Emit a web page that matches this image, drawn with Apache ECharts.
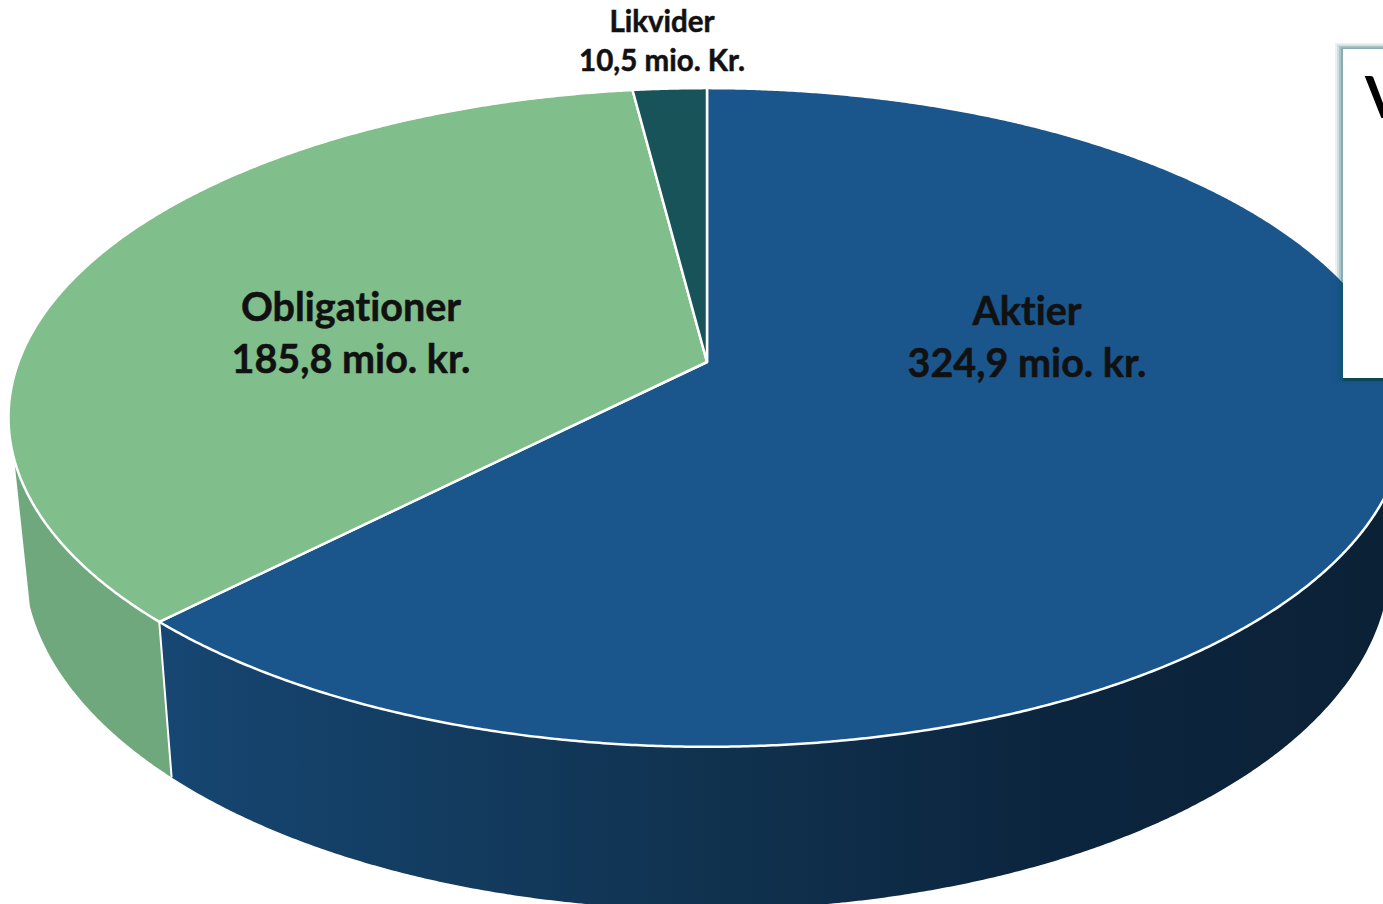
<!DOCTYPE html>
<html>
<head>
<meta charset="utf-8">
<style>
  html, body { margin: 0; padding: 0; background: #fff; overflow: hidden; }
  #main { width: 1383px; height: 904px; }
  #main text { font-variant-ligatures: none !important; }
</style>
<script src="https://cdn.jsdelivr.net/npm/echarts@6/dist/echarts.min.js"></script>
</head>
<body>
<div id="main"></div>
<script>
var categories = ['Aktier', 'Obligationer', 'Likvider'];
var values = [324.9, 185.8, 10.5];
var valueTexts = ['324,9 mio. kr.', '185,8 mio. kr.', '10,5 mio. Kr.'];

var topColors = ['#1a568c', '#80be8b', '#175358'];
var wallStops = [
  [[0, '#164672'], [0.45, '#10324f'], [0.7, '#0c2640'], [1, '#0b2136']],
  [[0, '#6fa87c'], [1, '#669e73']],
  [[0, '#123f44'], [1, '#123f44']]
];

// label centre (x, y of first line), font size, line gap
var labelLayout = [
  { x: 1027, y: 309, size: 39.5, gap: 52 },
  { x: 351, y: 305, size: 39.5, gap: 52 },
  { x: 662, y: 20, size: 29.5, gap: 39 }
];

// perspective of the top face and the bottom face of the disc
var topFace = { cx: 707, cy: 362, a: 688.5, b: 320, k: 0.1684 };
var bottomFace = { cx: 707, cy: 503, a: 673, b: 338, k: 0.1684 };
// the side wall shows between these two angles, clockwise from the top
var wallFrom = 1.865;
var wallTo = Math.PI * 2 - 1.865;

var total = values.reduce(function (s, v) { return s + v; }, 0);

function project(face, angle) {
  var d = 1 + face.k * Math.cos(angle);
  return [face.cx + face.a * Math.sin(angle) / d, face.cy - face.b * Math.cos(angle) / d];
}

function sliceAngles(index) {
  var before = 0;
  for (var i = 0; i < index; i++) before += values[i];
  return [before / total * Math.PI * 2, (before + values[index]) / total * Math.PI * 2];
}

function arc(face, from, to) {
  var pts = [];
  var n = Math.max(2, Math.ceil(Math.abs(to - from) / 0.005));
  for (var i = 0; i <= n; i++) pts.push(project(face, from + (to - from) * i / n));
  return pts;
}

function renderWall(params) {
  var i = params.dataIndex;
  var ang = sliceAngles(i);
  var from = Math.max(ang[0], wallFrom);
  var to = Math.min(ang[1], wallTo);
  if (from >= to) return { type: 'group', children: [] };
  var points = arc(topFace, from, to).concat(arc(bottomFace, to, from));
  var stops = wallStops[i].map(function (s) { return { offset: s[0], color: s[1] }; });
  var children = [{
    type: 'polygon',
    shape: { points: points },
    style: {
      fill: { type: 'linear', x: 160, y: 0, x2: 1383, y2: 0, global: true, colorStops: stops }
    }
  }];
  // white divider only where a slice starts inside the visible wall
  if (ang[0] > wallFrom) {
    var a = project(topFace, ang[0]);
    var b = project(bottomFace, ang[0]);
    children.push({
      type: 'line',
      shape: { x1: a[0], y1: a[1], x2: b[0], y2: b[1] },
      style: { stroke: '#fff', lineWidth: 2 }
    });
  }
  return { type: 'group', children: children };
}

function renderTop(params) {
  var i = params.dataIndex;
  var ang = sliceAngles(i);
  var points = [[topFace.cx, topFace.cy]].concat(arc(topFace, ang[0], ang[1]));
  return {
    type: 'polygon',
    shape: { points: points },
    style: { fill: topColors[i], stroke: '#fff', lineWidth: 2.5, lineJoin: 'round' }
  };
}

function renderLabel(params) {
  var i = params.dataIndex;
  var l = labelLayout[i];
  var lines = [categories[i], valueTexts[i]];
  return {
    type: 'group',
    children: lines.map(function (t, n) {
      return {
        type: 'text',
        x: l.x,
        y: l.y + n * l.gap,
        style: {
          text: t,
          fill: '#111',
          stroke: '#111',
          lineWidth: 0.5,
          font: 'bold ' + l.size + 'px Lato, sans-serif',
          textAlign: 'center',
          textVerticalAlign: 'middle'
        }
      };
    })
  };
}

var chartData = categories.map(function (name, i) { return { name: name, value: values[i] }; });

// soft teal edge of the text box, built from stacked see-through rects
var boxEdge = [
  { grow: 8, alpha: 0.08 },
  { grow: 6, alpha: 0.12 },
  { grow: 4, alpha: 0.18 },
  { grow: 2, alpha: 0.22 }
].map(function (e) {
  return {
    type: 'rect',
    z: 9,
    shape: { x: 1343 - e.grow, y: 49 - e.grow * 0.75, width: 60, height: 329 + e.grow * 1.5 },
    style: { fill: 'rgba(10,85,95,' + e.alpha + ')' }
  };
});

var myChart = echarts.init(document.getElementById('main'), null, { renderer: 'svg' });
var option = {
  animation: false,
  backgroundColor: '#fff',
  tooltip: { show: false },
  series: [
    { type: 'custom', coordinateSystem: 'none', z: 1, silent: true, data: chartData, renderItem: renderWall },
    { type: 'custom', coordinateSystem: 'none', z: 2, silent: true, data: chartData, renderItem: renderTop },
    { type: 'custom', coordinateSystem: 'none', z: 3, silent: true, data: chartData, renderItem: renderLabel }
  ],
  graphic: boxEdge.concat([
    {
      type: 'rect',
      z: 10,
      shape: { x: 1343, y: 378, width: 60, height: 3 },
      style: { fill: 'rgba(10,72,85,0.9)' }
    },
    {
      type: 'rect',
      z: 10,
      shape: { x: 1343, y: 49, width: 60, height: 329 },
      style: { fill: '#fff' }
    },
    {
      type: 'text',
      z: 11,
      x: 1365,
      y: 96,
      style: {
        text: 'V',
        fill: '#000',
        font: 'bold 57px Lato, sans-serif',
        textAlign: 'left',
        textVerticalAlign: 'middle'
      }
    }
  ])
};
myChart.setOption(option);
</script>
</body>
</html>
